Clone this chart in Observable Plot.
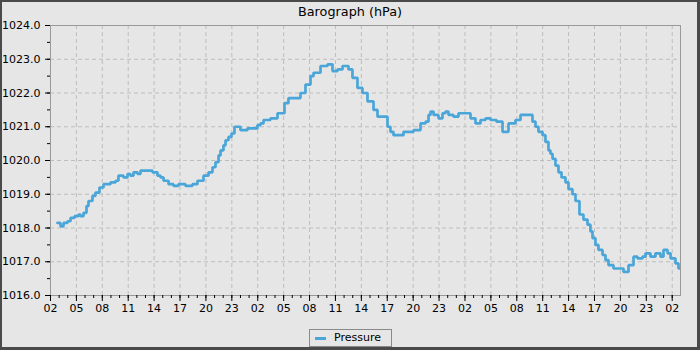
<!DOCTYPE html>
<html>
<head>
<meta charset="utf-8">
<script src="https://cdn.jsdelivr.net/npm/d3@7"></script>
<script src="https://cdn.jsdelivr.net/npm/@observablehq/plot@0.6"></script>
<style>
  html, body { margin: 0; padding: 0; background: #e6e6e6; }
  #wrap { position: relative; width: 700px; height: 350px; background: #e6e6e6; font-family: "DejaVu Sans", sans-serif; overflow: hidden; }
  #title { position: absolute; left: 0; top: 4px; width: 700px; text-align: center; font-size: 12.8px; color: #000; }
  #chart { position: absolute; left: 0; top: 0; }
  #legend { position: absolute; left: 309px; top: 329px; width: 83px; height: 18px; border: 1px solid #8a8a8a; box-sizing: border-box; font-size: 11px; color: #000; }
  #legend .sw { position: absolute; left: 5px; top: 7px; width: 11px; height: 3px; background: #4aa6d9; }
  #legend .lb { position: absolute; left: 24px; top: 1px; }
  #border { position: absolute; left: 0; top: 0; width: 700px; height: 350px; box-sizing: border-box; border-style: solid; border-color: #4a4a4a; border-width: 2px 3px 3px 2px; pointer-events: none; }
</style>
</head>
<body>
<div id="wrap">
  <div id="chart"></div>
  <div id="title">Barograph (hPa)</div>
  <div id="legend"><div class="sw"></div><div class="lb">Pressure</div></div>
  <div id="border"></div>
</div>
<script>
// hours since 02:00 on the first day
const hours = [0.81,1.16,1.51,1.97,2.32,2.78,3.24,3.47,3.82,4.17,4.40,4.86,5.21,5.67,6.14,6.95,7.53,7.87,8.45,8.92,9.26,9.61,10.08,10.42,11.81,12.39,12.74,13.09,13.67,14.24,14.82,15.63,16.44,17.02,17.72,18.30,18.76,19.11,19.46,19.69,20.03,20.27,20.61,20.96,21.31,22.00,22.81,23.97,24.32,24.67,25.48,26.29,27.10,27.56,28.95,29.53,30.11,30.46,31.27,32.08,32.66,33.24,33.82,34.51,34.97,35.55,36.13,36.71,37.41,37.87,39.03,39.37,39.72,40.88,42.04,42.85,43.43,43.78,44.01,44.36,44.93,45.40,45.74,46.09,46.67,47.25,48.64,49.22,49.80,50.38,50.96,51.65,52.35,53.04,53.85,54.43,55.82,56.17,56.51,56.98,57.32,57.67,57.90,58.14,58.48,58.83,59.18,59.64,59.99,60.45,60.80,61.26,61.72,62.19,62.53,62.77,63.11,63.46,63.93,64.27,64.62,65.20,66.36,66.94,67.52,67.98,68.56,68.91,69.48,70.06,70.64,70.99,71.46,71.81,72.38,72.73,72.85];
const pressure = [1018.15,1018.05,1018.15,1018.20,1018.30,1018.35,1018.40,1018.35,1018.45,1018.65,1018.80,1018.95,1019.05,1019.20,1019.30,1019.35,1019.40,1019.55,1019.50,1019.60,1019.55,1019.65,1019.60,1019.70,1019.65,1019.55,1019.50,1019.40,1019.30,1019.25,1019.30,1019.25,1019.30,1019.40,1019.55,1019.65,1019.80,1019.95,1020.15,1020.30,1020.45,1020.60,1020.70,1020.80,1021.00,1020.90,1020.95,1021.05,1021.10,1021.20,1021.25,1021.40,1021.70,1021.85,1022.00,1022.25,1022.50,1022.60,1022.80,1022.85,1022.65,1022.70,1022.80,1022.70,1022.45,1022.15,1022.00,1021.75,1021.50,1021.30,1021.00,1020.85,1020.75,1020.85,1020.90,1021.10,1021.15,1021.35,1021.45,1021.35,1021.25,1021.40,1021.45,1021.35,1021.30,1021.40,1021.25,1021.10,1021.20,1021.25,1021.20,1021.15,1020.85,1021.10,1021.20,1021.35,1021.15,1021.00,1020.85,1020.75,1020.55,1020.30,1020.20,1020.05,1019.85,1019.65,1019.50,1019.35,1019.15,1019.00,1018.80,1018.40,1018.25,1018.10,1017.90,1017.70,1017.50,1017.35,1017.20,1017.05,1016.90,1016.80,1016.70,1016.90,1017.15,1017.10,1017.15,1017.25,1017.15,1017.25,1017.15,1017.35,1017.25,1017.10,1016.95,1016.80,1016.80];

const xTickHours = [0,3,6,9,12,15,18,21,24,27,30,33,36,39,42,45,48,51,54,57,60,63,66,69,72];
const xTickLabels = ["02","05","08","11","14","17","20","23","02","05","08","11","14","17","20","23","02","05","08","11","14","17","20","23","02"];
const yTicks = [1016,1017,1018,1019,1020,1021,1022,1023,1024];
const xMinor = d3.range(0, 73, 1);
const yMinor = d3.range(1016, 1024.01, 0.5);

const data = hours.map((h, i) => ({h, p: pressure[i]}));
const gridStyle = {stroke: "#bdbdbd", strokeOpacity: 1, strokeDasharray: "4,3", strokeWidth: 1};

const chart = Plot.plot({
  width: 700,
  height: 320,
  marginLeft: 50,
  marginRight: 20,
  marginTop: 25,
  marginBottom: 25,
  style: {background: "transparent", fontFamily: "DejaVu Sans, sans-serif", fontSize: "11px", color: "#000"},
  x: {domain: [0, 72.96]},
  y: {domain: [1016, 1024]},
  marks: [
    Plot.gridX(xTickHours.slice(1), gridStyle),
    Plot.gridY(yTicks.slice(1, -1), gridStyle),
    Plot.line(data, {x: "h", y: "p", curve: "step-after", stroke: "#4aa6d9", strokeWidth: 2.7, strokeLinejoin: "miter"}),
    Plot.frame({stroke: "#999", strokeWidth: 1}),
    Plot.axisX(xMinor, {tickSize: 3, tickFormat: () => "", label: null}),
    Plot.axisX(xTickHours, {tickSize: 6, tickPadding: 3, tickFormat: (d, i) => xTickLabels[i], label: null}),
    Plot.axisY(yMinor, {tickSize: 3, tickFormat: () => "", label: null}),
    Plot.axisY(yTicks, {tickSize: 5, tickPadding: 5, tickFormat: d => d.toFixed(1), label: null})
  ]
});
document.getElementById("chart").appendChild(chart);
</script>
</body>
</html>
